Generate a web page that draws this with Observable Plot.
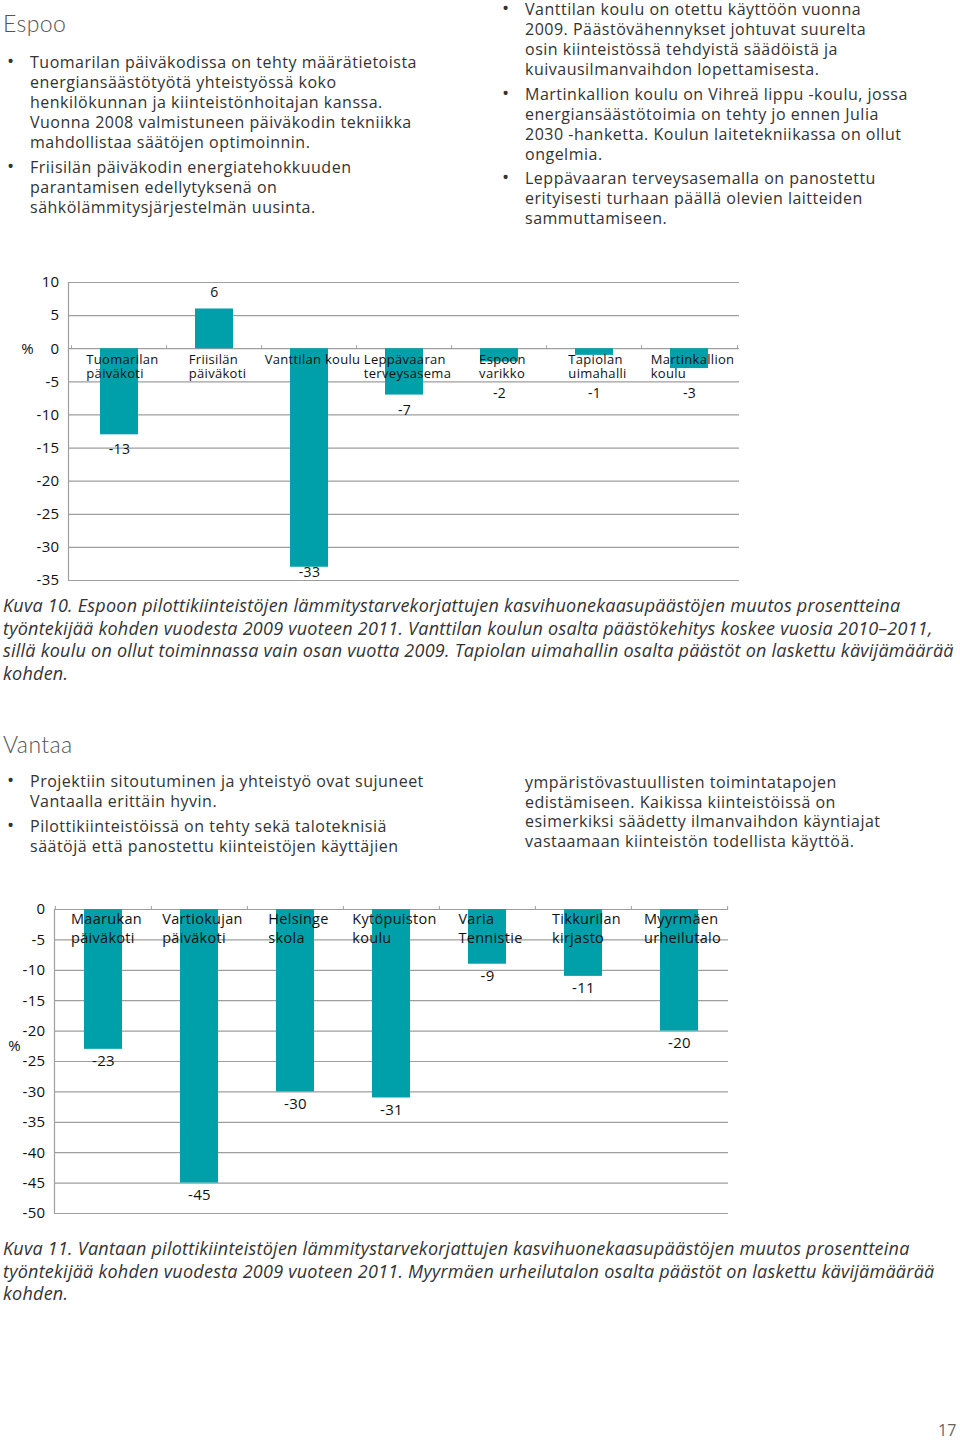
<!DOCTYPE html>
<html><head><meta charset="utf-8">
<script src="https://cdn.jsdelivr.net/npm/d3@7"></script>
<script src="https://cdn.jsdelivr.net/npm/@observablehq/plot@0.6"></script>
<style>
body{margin:0;width:960px;height:1440px;position:relative;background:#fff;font-family:"Open Sans",Lato,sans-serif;color:#333;overflow:hidden}
.abs{position:absolute}
.h{font-family:Lato,"Open Sans",sans-serif;font-size:23px;font-weight:300;color:#555;line-height:28px;letter-spacing:0.4px}
.col{font-size:16px;line-height:20px;letter-spacing:0.5px;color:#333}
.p{position:relative;margin-bottom:4.5px;white-space:pre}
.p.b::before{content:"•";position:absolute;left:-23px;top:-1px;font-size:19px}
.cap{font-style:italic;font-size:18px;line-height:22.7px;white-space:pre;color:#333;letter-spacing:0.24px}
.pn{font-size:16px;line-height:20px;color:#666}
</style></head>
<body>
<div class="abs h" style="left:3px;top:9px">Espoo</div>
<div class="abs col" style="left:30px;top:52px">
<div class="p b">Tuomarilan päiväkodissa on tehty määrätietoista
energiansäästötyötä yhteistyössä koko
henkilökunnan ja kiinteistönhoitajan kanssa.
Vuonna 2008 valmistuneen päiväkodin tekniikka
mahdollistaa säätöjen optimoinnin.</div>
<div class="p b">Friisilän päiväkodin energiatehokkuuden
parantamisen edellytyksenä on
sähkölämmitysjärjestelmän uusinta.</div>
</div>
<div class="abs col" style="left:525px;top:-1px">
<div class="p b">Vanttilan koulu on otettu käyttöön vuonna
2009. Päästövähennykset johtuvat suurelta
osin kiinteistössä tehdyistä säädöistä ja
kuivausilmanvaihdon lopettamisesta.</div>
<div class="p b">Martinkallion koulu on Vihreä lippu -koulu, jossa
energiansäästötoimia on tehty jo ennen Julia
2030 -hanketta. Koulun laitetekniikassa on ollut
ongelmia.</div>
<div class="p b">Leppävaaran terveysasemalla on panostettu
erityisesti turhaan päällä olevien laitteiden
sammuttamiseen.</div>
</div>
<div class="abs" id="chart1" style="left:0;top:260px"></div>
<div class="abs cap" style="left:3px;top:594px">Kuva 10. Espoon pilottikiinteistöjen lämmitystarvekorjattujen kasvihuonekaasupäästöjen muutos prosentteina
työntekijää kohden vuodesta 2009 vuoteen 2011. Vanttilan koulun osalta päästökehitys koskee vuosia 2010–2011,
sillä koulu on ollut toiminnassa vain osan vuotta 2009. Tapiolan uimahallin osalta päästöt on laskettu kävijämäärää
kohden.</div>
<div class="abs h" style="left:3px;top:730px">Vantaa</div>
<div class="abs col" style="left:30px;top:772px;line-height:19.5px">
<div class="p b" style="margin-bottom:6px">Projektiin sitoutuminen ja yhteistyö ovat sujuneet
Vantaalla erittäin hyvin.</div>
<div class="p b">Pilottikiinteistöissä on tehty sekä taloteknisiä
säätöjä että panostettu kiinteistöjen käyttäjien</div>
</div>
<div class="abs col" style="left:525px;top:773px;line-height:19.7px">
<div class="p">ympäristövastuullisten toimintatapojen
edistämiseen. Kaikissa kiinteistöissä on
esimerkiksi säädetty ilmanvaihdon käyntiajat
vastaamaan kiinteistön todellista käyttöä.</div>
</div>
<div class="abs" id="chart2" style="left:0;top:890px"></div>
<div class="abs cap" style="left:3px;top:1237px">Kuva 11. Vantaan pilottikiinteistöjen lämmitystarvekorjattujen kasvihuonekaasupäästöjen muutos prosentteina
työntekijää kohden vuodesta 2009 vuoteen 2011. Myyrmäen urheilutalon osalta päästöt on laskettu kävijämäärää
kohden.</div>
<div class="abs pn" style="left:938px;top:1420px">17</div>
<script>
// ---- Data ----
const espooCategories = ["Tuomarilan\npäiväkoti", "Friisilän\npäiväkoti", "Vanttilan koulu", "Leppävaaran\nterveysasema", "Espoon\nvarikko", "Tapiolan\nuimahalli", "Martinkallion\nkoulu"];
const espooValues = [-13, 6, -33, -7, -2, -1, -3];
const espooTicks = [10, 5, 0, -5, -10, -15, -20, -25, -30, -35];

const vantaaCategories = ["Maarukan\npäiväkoti", "Vartiokujan\npäiväkoti", "Helsinge\nskola", "Kytöpuiston\nkoulu", "Varia\nTennistie", "Tikkurilan\nkirjasto", "Myyrmäen\nurheilutalo"];
const vantaaValues = [-23, -45, -30, -31, -9, -11, -20];
const vantaaTicks = [0, -5, -10, -15, -20, -25, -30, -35, -40, -45, -50];

const FONT = '"Open Sans", Lato, sans-serif';
const BAR = "#00a0ab";
const GRID = "#9e9e9e";
const LS = 0.3;

const ctx = document.createElement("canvas").getContext("2d");
function textW(s, size) {
  ctx.font = `${size}px ${FONT}`;
  return Math.max(...s.split("\n").map(l => ctx.measureText(l).width + l.length * LS));
}

function barChart({cats, vals, ticks, domain, width, height, ml, mr, mt, mb, tickFont, catFont, catLH, catDy, valFont, labelY, valDy, pctDx, pctY}) {
  const data = cats.map((c, i) => ({cat: c, value: vals[i]}));
  const step = (width - ml - mr) / cats.length;
  const catMarks = cats.map(c => Plot.text([c], {
    x: d => d, y: () => 0, text: d => d,
    textAnchor: "start", lineAnchor: "top",
    dx: -textW(c, catFont) / 2 + 3, dy: catDy,
    fontSize: catFont, lineHeight: catLH, fill: "#111"
  }));
  return Plot.plot({
    width, height, marginLeft: ml, marginRight: mr, marginTop: mt, marginBottom: mb,
    style: {fontFamily: FONT, color: "#111", background: "transparent", overflow: "visible", letterSpacing: LS + "px"},
    x: {domain: cats, paddingInner: 0.6, paddingOuter: 0.3, axis: null},
    y: {domain, axis: null},
    marks: [
      Plot.ruleY(ticks, {stroke: GRID, strokeWidth: 1.2}),
      Plot.frame({anchor: "left", stroke: GRID, strokeWidth: 1.2}),
      Plot.barY(data, {x: "cat", y: "value", fill: BAR}),
      Plot.ruleX(data, {x: "cat", y1: 0, y2: (domain[1] - domain[0]) / 100, dx: -step / 2, stroke: GRID}),
      Plot.ruleX([cats[cats.length - 1]], {x: d => d, y1: 0, y2: (domain[1] - domain[0]) / 100, dx: step / 2, stroke: GRID}),
      Plot.axisY(ticks, {tickSize: 0, tickPadding: 9, tickFormat: d => String(d), fontSize: tickFont, fill: "#111", label: null}),
      Plot.text(["%"], {y: () => pctY, text: d => d, frameAnchor: "left", textAnchor: "middle", dx: pctDx, fontSize: tickFont, fill: "#111"}),
      ...catMarks,
      Plot.text(data.filter(d => d.value >= 0), {x: "cat", y: "value", text: d => String(d.value), dy: -16, fontSize: valFont, fill: "#111"}),
      Plot.text(data.filter(d => d.value < 0), {x: "cat", y: labelY, text: d => String(d.value), dy: valDy, fontSize: valFont, fill: "#111"})
    ]
  });
}

document.getElementById("chart1").append(barChart({
  cats: espooCategories, vals: espooValues, ticks: espooTicks, domain: [-35, 10],
  width: 760, height: 330, ml: 68, mr: 21, mt: 22, mb: 10,
  tickFont: 15, catFont: 13, catLH: 1.1, catDy: 5, valFont: 14,
  labelY: d => Math.max(Math.min(d.value, -4.5), -31.5), valDy: 15,
  pctDx: -41, pctY: 0
}));

document.getElementById("chart2").append(barChart({
  cats: vantaaCategories, vals: vantaaValues, ticks: vantaaTicks, domain: [-50, 0],
  width: 750, height: 332, ml: 54, mr: 22, mt: 19, mb: 9,
  tickFont: 15, catFont: 14.5, catLH: 1.3, catDy: 1, valFont: 15,
  labelY: "value", valDy: 12,
  pctDx: -40, pctY: -22.5
}));
</script>
</body></html>
